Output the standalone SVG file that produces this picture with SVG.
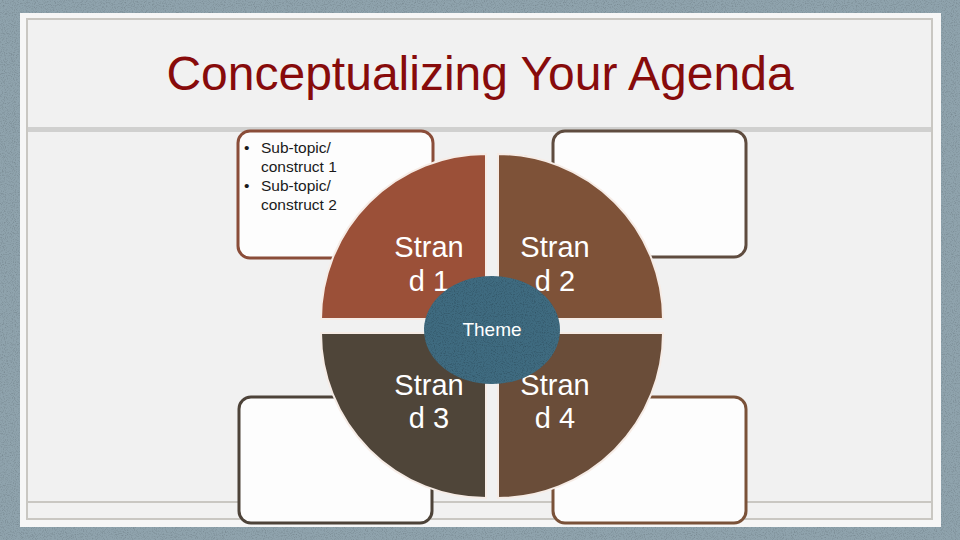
<svg xmlns="http://www.w3.org/2000/svg" width="960" height="540" viewBox="0 0 960 540">
  <defs>
    <style>
      .box { fill: #fdfdfd; stroke-width: 3; }
      .quad { stroke: #f6ece6; stroke-width: 2; }
      .strand { font-family: "Liberation Sans", Arial, sans-serif; font-size: 29px; fill: #ffffff; text-anchor: middle; }
      .bul { font-family: "Liberation Sans", Arial, sans-serif; font-size: 15.5px; fill: #1a1a1a; }
    </style>
    <filter id="grain" x="0" y="0" width="100%" height="100%">
      <feTurbulence type="fractalNoise" baseFrequency="0.9" numOctaves="2" seed="3" result="n"/>
      <feColorMatrix in="n" type="matrix" values="0 0 0 0 0  0 0 0 0 0  0 0 0 0 0  0 0 0 -1.4 0.75" result="a"/>
      <feComposite in="a" in2="SourceGraphic" operator="in"/>
    </filter>
  </defs>

  <!-- background -->
  <rect x="0" y="0" width="960" height="540" fill="#8fa3ad"/>
  <rect x="0" y="0" width="960" height="540" fill="#8fa3ad" filter="url(#grain)" opacity="0.25"/>

  <!-- slide panel -->
  <rect x="20" y="13" width="921" height="514" fill="#f6f6f6"/>
  <rect x="27" y="19" width="905" height="500" fill="#f1f1f1" stroke="#c9c7c2" stroke-width="2"/>
  <rect x="28" y="127" width="903" height="5" fill="#d0d0cf"/>
  <line x1="28" y1="502" x2="931" y2="502" stroke="#c9c7c2" stroke-width="2"/>

  <!-- title -->
  <g id="title">
    <text x="480" y="90" font-family="Liberation Sans, Arial, sans-serif" font-size="48" fill="#870b0b" text-anchor="middle">Conceptualizing Your Agenda</text>
  </g>

  <!-- boxes -->
  <g id="box-top-left">
    <rect class="box" x="238" y="131" width="195" height="127" rx="12" stroke="#8a4d39"/>
    <text class="bul" x="244" y="153">•</text>
    <text class="bul" x="261" y="153">Sub-topic/</text>
    <text class="bul" x="261" y="172">construct 1</text>
    <text class="bul" x="244" y="191">•</text>
    <text class="bul" x="261" y="191">Sub-topic/</text>
    <text class="bul" x="261" y="210">construct 2</text>
  </g>
  <g id="box-top-right">
    <rect class="box" x="553" y="131" width="193" height="126" rx="12" stroke="#5f4c3f"/>
  </g>
  <g id="box-bottom-left">
    <rect class="box" x="239" y="397" width="193" height="126" rx="12" stroke="#4d4339"/>
  </g>
  <g id="box-bottom-right">
    <rect class="box" x="553" y="397" width="193" height="126" rx="12" stroke="#7a5239"/>
  </g>

  <!-- strands -->
  <g id="strand-1">
    <path class="quad" d="M486 319 L321 319 A165 165 0 0 1 486 154 Z" fill="#9b5038"/>
    <text class="strand" x="429" y="257">Stran</text>
    <text class="strand" x="429" y="291">d 1</text>
  </g>
  <g id="strand-2">
    <path class="quad" d="M498 319 L498 154 A165 165 0 0 1 663 319 Z" fill="#7e5238"/>
    <text class="strand" x="555" y="257">Stran</text>
    <text class="strand" x="555" y="291">d 2</text>
  </g>
  <g id="strand-3">
    <path class="quad" d="M486 333 L486 498 A165 165 0 0 1 321 333 Z" fill="#4f4539"/>
    <text class="strand" x="429" y="395">Stran</text>
    <text class="strand" x="429" y="428">d 3</text>
  </g>
  <g id="strand-4">
    <path class="quad" d="M498 333 L663 333 A165 165 0 0 1 498 498 Z" fill="#6a4d39"/>
    <text class="strand" x="555" y="395">Stran</text>
    <text class="strand" x="555" y="428">d 4</text>
  </g>

  <!-- theme -->
  <g id="theme">
    <ellipse cx="492" cy="330" rx="68" ry="54" fill="#3f6b80"/>
    <ellipse cx="492" cy="330" rx="68" ry="54" fill="#1f3d4c" filter="url(#grain)" opacity="0.35"/>
    <text x="492" y="336" font-family="Liberation Sans, Arial, sans-serif" font-size="19" fill="#ffffff" text-anchor="middle">Theme</text>
  </g>

  <g id="connectors"></g>
</svg>
